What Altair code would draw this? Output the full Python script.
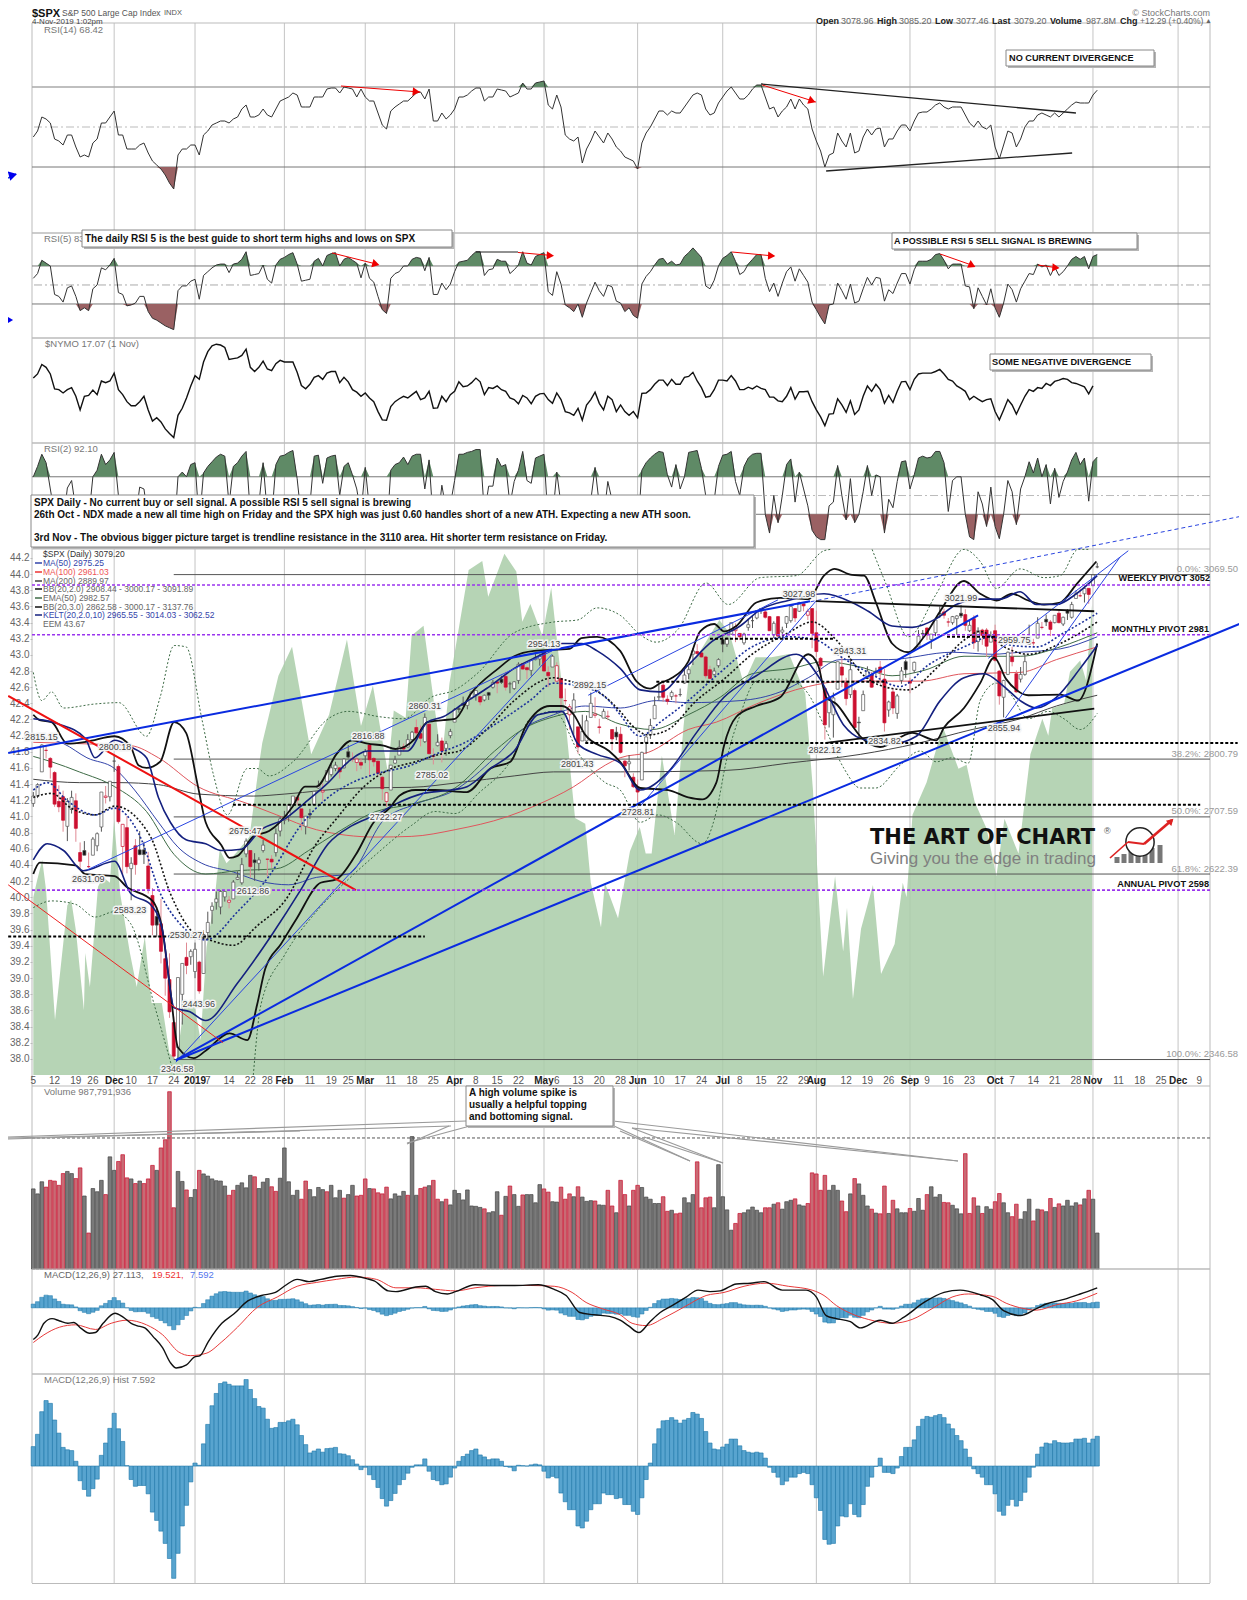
import altair as alt
import pandas as pd

# ---------- bar-by-bar readings ----------
opens = [2727,2738,2774,2806,2794,2773,2730,2737,2693,2718,2731,2654,2657,2633,2650,2664,2692,2736,2737,
 2790,2782,2663,2691,2630,2664,2658,2658,2634,2590,2559,2548,2496,2465,2401,2364,2443,2498,2499,
 2477,2491,2474,2535,2568,2580,2573,2588,2580,2585,2614,2609,2652,2657,2643,2638,2657,2644,2644,2654,2686,
 2702,2707,2725,2736,2719,2693,2712,2725,2750,2744,2760,2770,2779,2780,2780,2804,2793,2788,2788,
 2798,2814,2794,2790,2766,2730,2747,2787,2799,2811,2811,2822,2840,2831,2819,2845,2797,2813,2820,2809,2828,
 2848,2868,2876,2873,2884,2889,2886,2881,2892,2900,2908,2912,2916,2905,2898,2910,2935,2929,2925,2941,2942,
 2952,2922,2930,2909,2913,2880,2859,2863,2841,2820,2820,2855,2858,2841,2854,2856,2837,2833,2830,2790,2786,2766,
 2751,2762,2818,2829,2853,2885,2903,2882,2886,2887,2889,2906,2920,2949,2953,2951,2945,2926,2919,2932,
 2971,2964,2979,2984,2980,2966,2989,2999,3003,3017,3012,3005,2978,3005,2982,2995,2999,3017,3013,3024,3007,3017,
 2981,2943,2898,2862,2859,2897,2930,2907,2889,2895,2848,2865,2913,2919,2923,2930,2912,2866,2893,2861,2910,2938,
 2909,2925,2960,2980,2988,2971,2981,3010,3012,2997,2996,3002,3010,3008,2984,3002,2968,2985,2985,2967,
 2984,2924,2885,2919,2945,2920,2912,2919,2964,2966,2973,2989,3001,2997,2996,3010,2994,3014,3004,3032,3036,3039,3047,
 3051,3079]
highs = [2744,2757,2815,2814,2796,2775,2754,2746,2735,2746,2742,2669,2671,2654,2677,2684,2744,2753,2760,
 2800,2785,2696,2708,2647,2674,2686,2670,2655,2601,2573,2585,2510,2504,2410,2468,2489,2520,2510,
 2520,2493,2538,2566,2580,2596,2598,2596,2589,2613,2626,2646,2675,2657,2653,2647,2673,2645,2650,2690,2708,
 2716,2725,2738,2739,2719,2708,2719,2745,2761,2757,2776,2787,2789,2781,2794,2814,2803,2796,2794,
 2808,2816,2796,2790,2768,2744,2784,2798,2821,2816,2830,2835,2852,2843,2861,2846,2809,2830,2825,2820,2838,
 2869,2872,2886,2881,2893,2895,2886,2889,2893,2911,2909,2917,2923,2908,2909,2937,2936,2931,2940,2950,2949,
 2954,2931,2948,2937,2913,2898,2875,2891,2840,2859,2858,2892,2885,2853,2868,2865,2837,2841,2841,2792,2799,2772,
 2763,2804,2827,2853,2886,2904,2910,2888,2895,2890,2898,2930,2932,2958,2964,2955,2947,2932,2929,2943,
 2977,2974,2996,2995,2980,2981,3002,3006,3014,3017,3015,3006,2998,3006,2990,3006,3019,3017,3027,3025,3017,3017,
 3014,2945,2898,2884,2892,2938,2944,2914,2943,2898,2856,2895,2931,2923,2929,2939,2927,2880,2899,2890,2930,2941,
 2914,2938,2985,2985,2989,2979,3000,3020,3017,3003,3006,3007,3022,3016,2999,3007,2989,2987,2988,2983,
 2993,2925,2911,2953,2960,2925,2930,2949,2993,2972,3004,2997,3008,3000,3007,3015,3005,3016,3027,3044,3047,3050,3047,
 3067,3085]
lows = [2722,2735,2774,2794,2764,2722,2714,2685,2671,2712,2670,2631,2650,2631,2650,2656,2685,2727,2730,
 2774,2697,2621,2623,2583,2621,2650,2637,2593,2531,2528,2489,2441,2408,2347,2347,2398,2473,2487,
 2467,2444,2474,2525,2548,2569,2562,2581,2571,2585,2613,2606,2647,2617,2612,2627,2654,2618,2631,2648,2678,
 2696,2700,2724,2725,2687,2681,2704,2725,2749,2731,2760,2767,2775,2764,2779,2794,2789,2775,2778,
 2787,2767,2782,2768,2732,2722,2747,2786,2799,2804,2810,2821,2823,2812,2817,2800,2785,2812,2788,2798,2824,
 2848,2862,2873,2867,2882,2880,2873,2879,2881,2898,2891,2905,2895,2891,2896,2905,2926,2912,2917,2940,2932,
 2924,2900,2930,2908,2862,2874,2837,2826,2801,2820,2816,2855,2854,2831,2854,2851,2806,2821,2801,2766,2776,2750,
 2729,2762,2801,2823,2853,2880,2878,2874,2881,2876,2886,2905,2912,2933,2947,2944,2913,2912,2917,2929,
 2952,2960,2978,2967,2970,2963,2984,2988,3001,3009,3002,2984,2973,2975,2977,2988,2996,2997,3012,3013,3000,2958,
 2945,2914,2822,2840,2825,2897,2900,2873,2884,2839,2825,2865,2913,2899,2917,2905,2834,2856,2860,2853,2905,2914,
 2891,2921,2960,2972,2970,2957,2976,3003,3002,2990,2993,2978,3003,2984,2982,2957,2953,2963,2945,2967,
 2938,2874,2855,2918,2931,2892,2907,2917,2963,2962,2973,2986,2991,2976,2995,2995,2991,3000,3002,3032,3034,3026,3024,
 3051,3077]
closes = [2738,2755,2814,2806,2781,2726,2722,2702,2730,2736,2690,2641,2650,2633,2674,2682,2744,2738,2760,
 2790,2700,2696,2633,2638,2636,2651,2651,2600,2546,2546,2507,2467,2417,2351,2468,2489,2486,2507,
 2510,2448,2532,2550,2574,2585,2596,2596,2583,2610,2617,2636,2671,2633,2639,2643,2665,2644,2640,2682,2704,
 2707,2725,2738,2732,2706,2708,2710,2745,2754,2746,2776,2780,2784,2774,2793,2796,2794,2793,2784,
 2804,2792,2789,2772,2749,2743,2784,2792,2811,2808,2822,2833,2832,2824,2855,2801,2798,2818,2805,2816,2834,
 2867,2867,2873,2880,2893,2895,2878,2888,2888,2907,2906,2907,2900,2905,2908,2934,2927,2926,2940,2943,2946,
 2924,2917,2946,2932,2884,2880,2871,2881,2811,2834,2850,2876,2860,2840,2864,2857,2823,2826,2803,2783,2789,2752,
 2744,2803,2826,2843,2873,2886,2885,2879,2892,2887,2889,2918,2926,2954,2950,2945,2917,2913,2924,2941,
 2964,2973,2996,2990,2975,2979,2993,2999,3014,3014,3004,2984,2995,2976,2985,3005,3020,3003,3026,3021,3013,2980,
 2953,2932,2844,2881,2884,2938,2918,2883,2926,2840,2847,2889,2924,2900,2924,2922,2847,2878,2869,2887,2924,2926,
 2906,2937,2976,2979,2978,2979,3000,3009,3007,2997,3005,3006,3006,2992,2992,2966,2984,2977,2961,2976,
 2940,2887,2910,2952,2938,2893,2919,2938,2970,2966,2995,2989,2997,2986,3007,2996,3004,3010,3023,3039,3036,3047,3038,
 3067,3079]

volume = [2.25,2.11,2.45,2.30,2.49,2.47,2.35,2.68,2.74,2.68,2.54,2.84,2.05,1.01,2.26,2.17,2.49,2.09,3.15,2.77,
 3.02,3.21,2.56,2.53,2.40,2.47,2.40,2.53,2.91,2.77,3.40,3.63,4.98,1.72,2.74,2.46,2.22,2.01,2.23,2.77,
 2.67,2.61,2.53,2.48,2.47,2.33,2.07,2.21,2.35,2.42,2.28,2.63,2.59,2.26,2.44,2.54,2.31,2.18,2.55,3.40,
 2.45,2.07,2.21,1.96,2.47,2.23,2.03,2.29,2.23,2.17,2.35,2.00,2.21,1.99,2.09,2.35,2.05,2.07,2.53,2.26,
 2.25,2.14,2.11,2.30,1.97,2.11,2.05,2.18,2.07,3.72,2.07,2.26,2.30,2.34,2.49,1.96,1.89,1.96,1.80,2.21,
 2.12,1.94,2.22,1.77,1.76,1.73,1.69,1.58,1.61,2.17,1.51,2.04,2.33,2.09,1.76,2.08,2.09,2.09,1.86,2.37,
 2.25,2.16,1.89,1.88,2.30,1.96,2.11,2.03,2.31,2.02,1.90,1.92,1.91,1.80,1.79,2.21,1.77,1.58,2.49,2.09,
 1.77,2.21,2.35,2.29,2.02,1.96,1.84,1.84,2.03,1.62,1.65,1.55,1.57,2.00,1.86,2.09,3.01,1.72,2.00,2.02,
 1.72,2.93,2.03,1.66,1.09,1.28,1.56,1.58,1.66,1.74,1.65,1.58,1.72,1.72,1.82,1.86,1.68,1.89,1.93,1.97,
 1.80,1.77,1.84,2.70,2.67,2.21,2.63,2.21,2.35,2.21,1.91,1.61,2.11,2.54,2.39,2.07,1.77,1.68,1.57,1.55,
 2.33,1.56,1.93,1.69,1.58,1.58,1.70,1.62,1.98,1.65,2.09,2.31,2.02,2.09,1.87,1.86,1.79,1.69,1.55,3.24,
 1.56,2.00,1.77,1.56,1.75,1.68,1.89,2.12,1.86,1.58,1.47,1.82,1.40,1.61,1.96,1.35,1.68,1.66,1.61,1.98,
 1.73,1.83,1.77,1.93,1.77,1.86,1.80,1.97,2.21,1.96,1.01]
volume_side = ("gggrrrrrgg" "rrgrgggrgg" "rrrgrgrrrg" "rrrrggrggr" "ggggggrrgg" "ggrgggrrgg" "gggrrggggr"
 "gggrggrrrg" "rrrrggggrg" "grrgrrgrgg" "ggggggrggg" "rgrggrgggg" "rrggrrrgrg" "ggrggrrg" "rr" "grrgggggrr"
 "grrgggrrrr" "gggggrrggg" "ggrrgrgggr" "ggrrrrrggg" "rrgrgggrgr" "rgrgggrggg" "rgggrrgggr" "rrgrggrrgg"
 "rrgggrgrgr" "grggggrgrg" "g")

macd_hist = [4.9,8,13.7,16.5,15.8,11.6,8.3,4.7,4.1,3.9,1.2,-3.7,-5.9,-7.6,-5.7,-3.3,2.7,5.8,9.5,13.3,
 9.4,6.2,0.1,-3.4,-5.1,-4.9,-4.9,-7,-11.6,-13.7,-16.4,-19.5,-23.3,-28.3,-22,-15.1,-9.9,-4,.75,.2,
 5.6,10.5,15.2,18.3,20.8,21.2,20.6,20.2,20.2,20.2,21.8,19.3,17,15,14.6,11.8,9.5,9.7,11,11,
 11.4,11.8,10.4,7.7,5.4,3.3,3.8,4.3,3.5,4.4,4.5,4.7,3.1,3,2.6,1.6,.5,-.9,-.3,-2.2,
 -3.4,-5.4,-8.2,-10.1,-8.7,-6.9,-4.7,-3.4,-1.8,-.3,.3,.3,1.8,-1.3,-3.4,-3.7,-4.7,-4.5,-2.8,-.5,
 1.2,2.4,3,3.9,4.3,2.8,2.3,1.6,1.8,1.8,1.2,-.1,-.3,-1.2,.2,.1,0,.3,.5,.3,
 -1.3,-3,-2.6,-3,-6.8,-9,-11,-11,-15.1,-15.6,-13.9,-11,-9.5,-9.5,-6.8,-7.2,-7.2,-8.2,-8,-9.7,
 -9.7,-11.4,-12.2,-8,-3.4,.75,5.6,9.4,11.4,11.5,12.2,11.6,10.8,11.6,12,13.5,13.1,12,8.7,5.8,
 4.3,4.1,4.8,5.5,6.8,6.8,5.1,3.9,3.5,3.3,3.5,3.3,2,-.3,-1.6,-2.8,-4.7,-3.8,-2.8,-2.8,
 -1.9,-1.6,-1.9,-4.7,-8,-11.2,-18.5,-19.7,-19.5,-15.1,-12.6,-12.8,-9.5,-12.2,-12.8,-9.7,-5.1,-2.8,-.1,2,
 -1.6,-1.6,-1.9,-.5,2.4,4.7,4.7,6.6,10,11.8,12.5,12.3,12.7,13,12.2,10.6,9.4,7.7,6.4,4.3,
 2.2,-.7,-1.9,-2.8,-4.7,-4.7,-7,-11.4,-12.4,-9.9,-8.4,-10.1,-8.7,-6.6,-2.8,-.3,3,4.8,5.8,5.6,
 6.4,5.9,5.8,5.8,5.9,6.8,6.8,7,5.8,6.8,7.5]

rsi14 = [45,48,55,54,52,44,43,41,46,46,40,35,36,35,42,44,52,52,55,58,46,46,39,39,39,41,42,37,33,31,29,26,22,19,36,39,39,41,41,36,
 46,48,51,52,53,53,52,54,55,59,61,55,55,56,59,56,55,59,63,64,65,67,66,60,60,60,65,65,65,69,69.5,69.5,67,70,69.5,69,65,69,65,63,
 63,57,51,49,58,60,61.5,63,63,65,67,67.5,64,69,53,53,57,54,56,59,65,65,66,68,69.5,69.5,63,65,65,69,68.5,68,65,66,67,72,69,69,72,72.5,
 73,61,59,66,60,46,44,43,45,32,39,43,48,45,42,47,44,40,38,35,34,33,29,42,47,50,54,58,58,56,58,57,57,60,63,66,67,66,59,56,
 57,62,65,68,70,67,64,64,66,69,71,71,65,59,60,55,58,60,64,59,64,61,59,49,43,38,30,36,37,47,43,40,47,37,38,45,49,46,49,49.5,
 40,44,44,48,51,51,48,53,57,57.5,57.5,59,61,62,60,59,60,60,60,56,52,50,53,50,49,51,40,34,41,48,47,40,44,50,53,53,56,57,56,55,
 57,55,57,59,61,62.5,62,62,62,66,68.4]
rsi5 = [57,62,76,73,70,40,38,32,47,49,38,23,26,23,46,50,68,66,71,78,42,40,28,29,31,38,38,22,15,13,10,7,5,3,44,49,49,54,56,35,
 60,64,68,71,72,72,63,72,73,77,85,60,61,62,71,56,52,71,77,79,82,84,72,54,55,56,75,78,70,81,83,84,70,77,79,76,73,57.5,73,57,
 53,38,24,20,57,62,64,70,70,77,79,78,65,79,40,40,52,45,51,64,74,75,76,81,85,85,60,66,67,77,75,75,62,66,71,85,73,71,80,82,
 84,43,39,64,51,29,26,22,30,16,31,42,53,44,38,50,48,33,31,22,26,18,15,51,59,64,71,77,78,72,75,71,72,80,84,89,84,79,49,46,
 55,70,78,81,85,75,61,64,72,77,82,82,57,43,52,38,52,64,69,54,67,60,53,32,24,16,9,29,30,52,44,35,51,31,33,46,58,50,58,57,
 33,45,41,52,62,62,51,66,75,75,75,77,82,83,76,67,72,72,72,49,48,25,47,38,29,46,26,16,31,51,45,32,46,54,62,61,72,69,71,60,
 69,60,64,70,77,80,77,80,67,80,82]
nymo = [35,45,68,61,45,9,7,-1,7,12,-9,-42,-9,-7,6,-5,28,24,28,47,7,-5,-22,-32,-32,-22,-9,-42,-69,-61,-71,-88,-99,-109,-55,-38,-13,16,41,32,
 74,99,113,117,115,109,80,82,84,90,105,61,51,61,76,57,53,70,78,74,74,74,49,17,9,20,37,41,32,47,51,51,24,37,26,7,1,-9,-1,-13,
 -22,-46,-66,-67,-34,-22,-15,-9,-13,-5,3,-17,-13,3,-38,-37,-9,-22,-5,3,26,14,16,24,35,26,-5,12,10,16,7,3,-13,-17,-27,-7,-13,-27,-9,-3,
 -2,-17,-26,-1,-17,-46,-49,-55,-38,-67,-30,-17,1,-26,-42,-9,-17,-46,-30,-46,-55,-46,-61,-2,-1,7,20,30,30,17,32,20,20,37,39,49,28,12,-11,-9,
 7,30,30,28,41,28,7,7,13,9,16,10,7,-11,-11,-20,-22,-9,12,-16,2,2,3,-22,-42,-59,-80,-52,-51,-15,-30,-48,-20,-53,-42,-9,16,3,20,7,
 -26,-7,-24,3,26,27,7,32,45,47,47,47,51,56,45,32,28,16,10,3,-17,-9,-16,-22,-17,-15,-46,-66,-42,-17,-30,-52,-30,-9,7,3,12,10,22,17,
 27,30,34,32,24,22,18,14,-3,16]
rsi2 = [70,81,94,85,57,30,30,20,58,66,35,20,30,25,70,77,94,83,88,96,50,30,15,15,25,59,57,25,15,10,7,5,4,3,70,75,70,83,85,20,
 74,81,86,91,94,92,40,81,85,92,97,30,35,40,85,30,25,83,92,93,96,98,68,25,35,40,92,93,63,90,92,93,50,81,85,72,57,30,80,35,
 25,15,8,5,77,83,85,91,83,92,94,94,57,88,20,20,61,35,40,66,94,94,96,97,99,99,30,60,60,90,81,83,40,65,77,97,66,63,90,92,
 94,20,25,75,40,15,12,10,25,8,30,45,80,40,25,65,45,15,20,10,20,12,8,77,85,90,94,97,96,72,59,83,57,70,96,97,98,79,50,20,
 45,81,93,94,97,65,50,81,90,94,95,95,30,10,50,21,50,83,89,43,75,57,39,13,6,3,3,39,43,82,50,24,68,21,30,54,82,50,72,70,
 10,46,37,65,86,87,57,72,90,92,90,91,97,97,85,33,66,70,70,30,6,3,54,41,17,59,17,4,30,66,54,19,57,70,86,74,90,70,83,41,
 79,48,65,75,88,96,83,90,44,86,91]

eem_i = [0,.9,2.1,3,5.1,8,8.9,10,11.9,12.2,13.3,15.2,16.4,18,19,20.4,22.7,24.3,26.2,27.8,30.2,32,33.7,35.6,37.9,39.3,40.7,42.6,43.8,45.4,47.7,50.8,53.1,53.8,57.6,60.8,65.3,69.5,73.7,77,79.8,83.3,84.7,87.5,88.9,91.7,96,97.8,102.3,105.5,106.9,110.7,113.5,114.9,116.8,119.6,121.7,124.5,127.3,129.7,131,133.4,134.3,137.4,140.2,142.5,143.9,145.3,147.7,150.7,152.8,154.2,161.2,163.6,166.9,169.7,173.4,177.6,181.4,183.2,185.6,188.4,190.3,191.2,192.6,194.5,197.3,199.2,202.4,204.3,205.2,206.6,209.9,213.7,217.4,219.3,221.2,224,226.3,228.2,231.5,234.3,237.1,238.5,239.4,242.2,243.6,246,247.4,248.8]
eem_v = [40.0,40.21,40.46,40.09,38.48,39.9,39.97,39.59,38.6,39.31,38.89,40.13,40.25,40.18,40.96,40.05,39.31,38.89,39.51,38.69,38.69,38.07,37.98,38.73,38.66,38.23,39.38,39.97,40.59,40.42,40.55,40.75,41.66,41.91,42.74,43.1,41.77,42.26,43.19,42.12,42.62,41.55,42.31,42.22,43.24,43.36,41.69,42.65,44.05,44.16,43.72,44.25,44.03,43.41,43.63,43.24,43.83,42.48,40.98,40.91,40.18,39.63,40.18,39.74,40.57,40.87,40.54,40.54,41.75,40.77,42.12,42.83,43.43,43.27,42.65,42.97,42.97,43.01,42.52,41.33,39.02,40.26,39.33,39.87,38.74,39.61,40.15,39.05,39.42,40.18,40.0,41.02,41.42,42.11,41.59,41.64,41.18,40.85,40.26,40.97,40.54,41.77,42.21,42.0,42.34,42.39,42.79,42.93,42.68,43.63]

macd_i = [0,1.1,2.5,4.4,6.2,8.1,9.5,11.3,13.2,14.6,16.4,19.2,21.1,23,24.3,26.2,28.1,30.4,32.2,33.6,36,37.8,39.2,41.1,44.3,47.1,50.4,53.6,56.9,59.2,62,64.8,67.6,71.3,74.5,78.3,80.1,83.4,85.2,89.9,92.2,94.5,97.3,99.2,103.8,108.5,113.1,118.7,122.4,125.2,128.4,131.7,135.4,137.9,139.8,142.3,144.9,147.3,150.1,153.4,156.2,159,161.4,165.2,168.5,171.7,176,181.6,184,186.3,188.7,192,194.3,199,201.8,204.6,209.3,214,217.8,222.5,225.3,228.1,231.9,235.7,238,242.2,246,250]
macd_v = [-41,-35,-20,-14,-17,-20,-19,-27,-33,-32,-20,-7,-12,-20,-23,-26,-37,-52,-71,-78,-74,-64,-62,-44,-20,-8,9,16,20,29,37,34,37,41,42,38,35,22,21,27,28,21,18,21,30,29,29,30,24,16,-6,-9,-11,-16,-23,-32,-18,-6,3,14,23,21,22,31,32,34,23,23,14,-10,-14,-18,-26,-16,-20,-12,7,20,23,17,11,-4,-10,-1,5,11,18,26]
signal_i = [0,2.5,6.2,9.9,14.6,18.3,22,26.6,30.4,34.1,36.9,40.6,44.3,48,52.7,57.3,62,66.6,71.3,75.9,80.6,85.2,89.9,94.5,99.2,103.8,110.3,116.8,122.4,126.6,129.9,133.6,137.9,140.7,144,148.2,152.9,158.1,162.3,167,172.2,177.4,183,185.8,188.7,192.4,196.2,201.8,206.5,211.2,215.9,219.7,225.3,228.6,232.8,235.7,240.4,245.1,250]
signal_v = [-45,-35,-25,-22,-28,-20,-16,-22,-35,-57,-62,-59,-44,-25,1,14,28,33,37,40,37,26,26,24,22,26,29,29,28,20,7,-1,-9,-20,-23,-13,1,16,20,28,32,28,23,16,3,-8,-15,-20,-15,-1,14,18,15,6,-1,-3,4,9,19]

# ---------- price overlays ----------
bb_up_i = [0,1.5,4.3,8,12.6,19.1,22.9,24.7,26.6,29.8,33.1,35.9,38.7,40.5,44.2,46.1,48,51.7,55.4,61,63.8,66.5,71.2,74.9,78.6,82.3,85.1,89.8,92.6,96.3,99.1,102.8,109.3,113,117.7,126,128.8,132.5,137.9,141.7,144.95,147.3,150.1,153.9,156.7,160,162.3,165.2,169.9,175.5,182.1,185.8,188.2,192.4,195.2,198,201.8,205.6,209.3,213.1,218.7,222.5,226.3,230,233.8,237.5,241.3,245.1,249.8]
bb_up_v = [2859,2851,2848,2816,2819,2827,2811,2784,2780,2789,2848,2832,2752,2699,2665,2646,2649,2678,2686,2723,2752,2752,2800,2821,2816,2813,2808,2824,2848,2851,2853,2890,2928,2946,2954,2957,2973,2975,2954,2909,2898,2906,2914,2938,2983,2994,2983,2991,3026,3033,3031,3066,3076,3067,3066,3026,2965,2952,2975,3013,3058,3039,3029,3039,3029,3023,3026,3053,3087]
bb_lo_i = [0,1.5,9.9,12.2,19.1,21.9,28,30.3,32.2,34,37.7,40.5,46.1,50.3,52.6,54.5,58.2,61.9,67.5,71.2,75.8,80,83.7,86.1,89.8,94.4,101.9,107.4,112.1,115.8,121.4,124.2,127,129.7,135.3,137.9,142.6,149.2,153.9,157.2,160.5,162.3,165.2,169.9,175.5,182.1,184.4,186.3,188.7,192.4,194.3,199,206.5,212.2,214,218.7,222.5,225.8,228.6,231,233.8,241.3,245.5,250]
bb_lo_v = [2622,2639,2635,2622,2619,2603,2582,2540,2449,2364,2348,2359,2385,2375,2428,2481,2518,2556,2609,2614,2651,2699,2720,2739,2747,2747,2744,2779,2789,2843,2872,2872,2859,2829,2805,2789,2750,2747,2736,2733,2758,2813,2856,2872,2885,2949,2933,2885,2875,2843,2827,2811,2832,2821,2840,2869,2906,2944,2912,2896,2888,2889,2880,2965]
kelt_up_i = [0,2.4,6.1,12.2,14.5,19.1,22.9,26.6,29.4,32.2,35.9,40.5,44.2,48.9,53.5,59.1,63.8,69.3,74,78.6,83.7,87.9,92.6,96.3,100.9,106.5,113,119.5,124.2,128.8,132.5,137.9,142.6,147.3,153.9,159.5,166.1,170.8,177.4,185.8,192.4,196.2,201.8,206.5,212.2,216.9,222.5,227.2,231.9,235.7,240.4,245.1,250]
kelt_up_v = [2853,2851,2845,2824,2795,2821,2811,2795,2736,2699,2673,2667,2657,2659,2688,2704,2728,2758,2789,2805,2805,2805,2848,2856,2875,2898,2928,2949,2965,2965,2954,2928,2896,2893,2933,2968,2991,3015,3029,3039,3026,3013,2991,2989,3002,3023,3031,3031,3042,3023,3023,3039,3066]
kelt_lo_i = [0,3.3,7.1,11.7,19.1,22.9,27.5,30.3,33.1,36.8,40.5,48,56.3,62.8,69.3,74.9,80.5,85.1,91.6,98.1,101.9,107.4,113,118.6,124.2,127.9,132.5,137.9,142.6,149.2,155.8,162.3,169.9,179.3,184.9,190.5,194.3,201.8,207.5,213.1,218.7,223.4,228.1,231.9,235.7,240.4,246,250]
kelt_lo_v = [2643,2667,2657,2627,2641,2593,2577,2540,2423,2417,2404,2460,2534,2598,2667,2694,2710,2726,2742,2747,2752,2779,2805,2859,2864,2816,2800,2787,2747,2774,2832,2885,2917,2949,2912,2843,2824,2816,2827,2880,2914,2920,2901,2880,2869,2885,2928,2962]
kelt_mid_i = [0,3.3,8,14.5,19.1,24.7,30.3,34.9,40.5,48,55.4,62.8,69.3,74.9,80.5,88.8,94.4,100.9,109.3,116.7,122.3,128.8,135.3,137.9,142.6,147.3,153.9,161.4,168.9,177.4,184,189.6,196.2,203.7,210.3,218.7,225.3,230,235.7,242.2,250]
kelt_mid_v = [2747,2758,2731,2710,2720,2683,2587,2545,2524,2566,2619,2694,2736,2758,2771,2784,2800,2816,2848,2880,2906,2901,2880,2859,2827,2848,2880,2922,2960,2975,2970,2946,2922,2901,2933,2960,2975,2962,2960,2981,3010]
bb_mid_i = [0,4.3,8.9,14.5,19.1,27.5,32.2,37.7,41.4,47,52.6,59.1,66.5,71.2,77.7,84.2,89.8,95.4,100,106.5,113,122.3,126,133.5,137.9,140.7,144.5,149.2,155.8,162.3,168.9,177.4,183,188.7,195.2,201.8,205.6,212.2,218.7,222.5,228.1,233.8,241.3,250]
bb_mid_v = [2736,2742,2720,2710,2723,2678,2593,2534,2524,2516,2545,2582,2667,2704,2752,2779,2789,2800,2805,2837,2880,2914,2909,2890,2864,2843,2829,2837,2880,2912,2949,2981,2997,2970,2917,2898,2896,2928,2970,2983,2960,2949,2965,2997]
bb3_up_i = [0,2,4.3,7.1,14.5,20.1,26.6,29.8,33.1,35.9,39.6,42.4,45.6,50.3,52.6,55.4,61,69.3,74,81.4,87,93.5,99.1,104.6,113,122.3,127.9,132.5,137.9,142.6,146.4,151.5,158.1,163.3,170.8,179.3,185.8,187.3,190,195,197.1,200.4,205.6,212.2,218.7,222.5,226.3,231.9,237.5,241.3,245.5,247.9]
bb3_up_v = [2922,2880,2893,2869,2875,2877,2827,2885,2962,2960,2853,2768,2710,2779,2779,2768,2789,2853,2864,2856,2853,2885,2896,2922,2981,2997,3000,3018,3007,2978,2967,2986,3055,3023,3063,3066,3103,3105,None,None,3105,3053,2975,3039,3105,3087,3047,3076,3063,3066,3105,3105]
bb3_lo_i = [0,4.3,9.9,14.5,19.1,22.9,28.4,30.8,33.1,40,51.7,53.5,59.1,66.5,74,80.5,88.8,94.4,99.1,104.6,113,116.7,122.3,128.8,134.4,137.9,142.6,146.8,151,157.2,160.5,162.8,166.1,169.9,174.6,178.3,182.1,185.8,190.5,194.3,198,203.7,208.4,212.2,215.9,219.7,222.5,226.3,229.6,233.8,238.5,242.2,246,250]
bb3_lo_v = [2572,2582,2577,2558,2566,2548,2428,2375,2323,None,2323,2428,2502,2566,2614,2651,2694,2715,2712,2742,2800,2853,2864,2795,2758,2747,2699,2710,2699,2667,2715,2789,2859,2909,2912,2909,2890,2843,2779,2750,2750,2784,2805,2789,2795,2787,2880,2906,2890,2853,2864,2853,2837,2861]
ma200_i = [0,10.8,20.1,29.4,38.7,51.7,59.1,75.8,88.8,100,113,122.3,137.9,162.3,177.4,194.3,207.5,220.6,231.9,240.4,250]
ma200_v = [2763,2758,2758,2755,2741,2738,2741,2750,2751,2758,2768,2774,2774,2776,2787,2800,2816,2837,2853,2872,2888]
ma100_i = [0,10.8,22.9,29.4,38.7,49.8,57.2,66.5,80.5,88.8,99.1,111.2,117.7,127,134.4,137.9,144.5,153.9,160.5,169.9,182.1,190.5,199,208.4,218.7,231.9,240.4,250]
ma100_v = [2818,2816,2813,2795,2752,2728,2710,2688,2677,2678,2688,2707,2723,2752,2784,2795,2803,2837,2848,2875,2901,2909,2909,2909,2920,2922,2941,2960]
ma50_i = [0,7.1,12.6,19.1,23.8,29.4,34,39.6,47,53.5,60,66.5,74,82.3,89.8,99.1,108.4,114.9,122.3,129.7,137.9,146.4,153.9,166.1,175.5,182.1,189.6,200.9,215.9,225.3,231.9,241.3,250]
ma50_v = [2827,2816,2795,2779,2747,2699,2662,2638,2625,2611,2606,2617,2622,2702,2726,2747,2795,2837,2859,2872,2869,2880,2877,2880,2893,2914,2941,2941,2952,2949,2952,2957,2975]
ema50_i = [0,4.3,10.8,19.1,26.6,33.1,40.5,48,57.2,64.7,71.2,80.5,88.8,99.1,108.4,114.9,122.3,129.7,137.9,145.4,153.9,161.4,168.9,178.3,185.8,194.3,201.8,209.3,218.7,225.3,231.9,241.3,250]
ema50_v = [2797,2789,2774,2752,2715,2651,2622,2627,2630,2657,2683,2715,2726,2750,2805,2837,2856,2864,2845,2837,2859,2885,2920,2928,2938,2930,2917,2925,2946,2946,2946,2960,2981]

# trendlines: start index, start price, end index, end price
blue_thick = [(-5.9,2802,182.5,3028),(33.5,2345,284.5,2997),(33.5,2345,222,3007)]
blue_thin = [(33.5,2342,121.9,2949),(12.6,2628,121.9,2954),(130.4,2888,175,3030),(142.6,2723,183.9,3028),(228.4,2854,255.4,3094),(224.4,2943,257.3,3103)]
blue_dash = [(177.8,3021,285.2,3156)]
red_thick = [(-5.9,2887,75.8,2598)]
red_thin = [(-5.9,2606,44.6,2371)]
black_thick = [(183.9,3028,249.3,3013),(186.3,2817,249.3,2868)]
black_dash = [(-5.9,2529,92,2529),(46.9,2725,274.2,2725),(129.7,2817,283,2817),(146.4,2908,200.6,2908),(159,2972,188,2972),(214.7,2975,226.5,2975)]
fib_levels = [3067.5,2793,2707,2622,2346]
pivots = [3052,2978,2598]
peak_i = [1.9,19.2,12.9,22.7,35.9,38.9,33.8,49.8,51.6,82.9,78.7,92,93.7,120,127.8,130.8,142.1,179.9,191.9,186,200,218,228.1,230.5]
peak_p = [2826,2811,2615,2568,2531,2429,2332,2686,2597,2707,2827,2872,2769,2964,2786,2903,2714,3039,2954,2807,2820,3033,2840,2970]
peak_t = ["2815.15","2800.18","2631.09","2583.23","2530.27","2443.96","2346.58","2675.47","2612.86","2722.27","2816.88","2860.31","2785.02","2954.13","2801.43","2892.15","2728.81","3027.98","2943.31","2822.12","2834.82","3021.99","2855.94","2959.75"]

# x ticks: bar index and label
tick_i = [0,5,10,14,19,23,28,33,38,41,46,51,55,59,65,70,74,78,84,89,94,99,104,109,114,120,123,128,133,138,142,147,152,157,162,166,171,176,181,184,191,196,201,206,210,215,220,226,230,235,240,245,249,255,260,265,269,274]
tick_l = ["5","12","19","26","Dec","10","17","24","2019","7","14","22","28","Feb","11","19","25","Mar","11","18","25","Apr","8","15","22","May","6","13","20","28","Jun","10","17","24","Jul","8","15","22","29","Aug","12","19","26","Sep","9","16","23","Oct","7","14","21","28","Nov","11","18","25","Dec","9"]
bold_l = {"Dec","2019","Feb","Mar","Apr","May","Jun","Jul","Aug","Sep","Oct","Nov"}
month_i = [i for i, l in zip(tick_i, tick_l) if l in bold_l]

# ---------- helpers ----------
SANS = "Liberation Sans"
OX, OY = 32, 23
W, H = 1178, 1560
xs = alt.Scale(domain=[-0.306, 276.5], nice=False, zero=False, padding=0)
X = alt.X("i:Q", scale=xs, axis=None)
one = alt.InlineData(values=[{"a": 1}])


def yscale(top, bottom, dmax, dmin):
    return alt.Scale(domain=[dmin, dmax], range=[bottom - OY, top - OY], nice=False, zero=False, padding=0)


def s(vals, idx=None):
    return pd.DataFrame({"i": list(range(len(vals))) if idx is None else idx, "v": vals})


def segs(rows):
    out = []
    for n, (a, b, c, d) in enumerate(rows):
        out += [{"i": a, "v": b, "k": n}, {"i": c, "v": d, "k": n}]
    return pd.DataFrame(out)


def line(df, sc, color, width=1, dash=None, axis=None, detail=False, smooth=False):
    kw = {"strokeDash": dash} if dash else {}
    if smooth:
        kw["interpolate"] = "monotone"
    enc = dict(x=X, y=alt.Y("v:Q", scale=sc, axis=axis))
    if detail:
        enc["detail"] = "k:N"
    return alt.Chart(df).mark_line(color=color, strokeWidth=width, clip=False, **kw).encode(**enc)


def levels(vals, sc, color, width=1, dash=None, axis=None):
    kw = {"strokeDash": dash} if dash else {}
    return alt.Chart(pd.DataFrame({"v": vals})).mark_rule(color=color, strokeWidth=width, **kw).encode(
        y=alt.Y("v:Q", scale=sc, axis=axis))


def yaxis(values, shown=None, expr=None, orient="right"):
    if expr is None and shown is not None:
        expr = "indexof(%s, datum.value) >= 0 ? datum.label : ''" % str(shown)
    kw = {"labelExpr": expr} if expr else {}
    return alt.Axis(orient=orient, values=values, title=None, grid=True, gridColor="#e9e9e9", gridWidth=1,
                    domainColor="#bbbbbb", tickColor="#bbbbbb", tickSize=3, labelColor="#666666",
                    labelFont=SANS, labelFontSize=10, labelPadding=2, labelOverlap=False, labelFlush=False, **kw)


def fills(vals, sc, hi=70, lo=30):
    d = s(vals)
    d["up"] = [max(v, hi) for v in vals]
    d["dn"] = [min(v, lo) for v in vals]
    d["hi"] = hi
    d["lo"] = lo
    a = alt.Chart(d).mark_area(color="#5f8a66").encode(x=X, y=alt.Y("up:Q", scale=sc, axis=None), y2="hi:Q")
    b = alt.Chart(d).mark_area(color="#9a6163").encode(x=X, y=alt.Y("dn:Q", scale=sc, axis=None), y2="lo:Q")
    return [a, b]


def txt(t, px, py, size=10, color="#444444", weight="normal", align="left", font=SANS, **kw):
    return alt.Chart(one).mark_text(fontSize=size, color=color, fontWeight=weight, align=align, baseline="middle",
                                    font=font, **kw).encode(x=alt.value(px - OX), y=alt.value(py - OY), text=alt.value(t))


def note(t, px, py, size):
    return txt(t, px, py, size, "#111111", "bold")


def box(x0, y0, x1, y1):
    sh = alt.Chart(one).mark_rect(fill="#b5b5b5").encode(x=alt.value(x0 - OX + 2), x2=alt.value(x1 - OX + 2),
                                                       y=alt.value(y0 - OY + 2), y2=alt.value(y1 - OY + 2))
    r = alt.Chart(one).mark_rect(fill="white", stroke="#888888", strokeWidth=1).encode(
        x=alt.value(x0 - OX), x2=alt.value(x1 - OX), y=alt.value(y0 - OY), y2=alt.value(y1 - OY))
    return [sh, r]


def seg_px(x0, y0, x1, y1, color="#999999", width=1.0):
    return alt.Chart(one).mark_rule(color=color, strokeWidth=width).encode(
        x=alt.value(x0 - OX), x2=alt.value(x1 - OX), y=alt.value(y0 - OY), y2=alt.value(y1 - OY))


def head(x, v, sc, angle, color="#ee0000", size=70):
    d = pd.DataFrame({"i": [x], "v": [v]})
    return alt.Chart(d).mark_point(shape="triangle-right", filled=True, color=color, size=size, angle=angle, opacity=1).encode(
        x=X, y=alt.Y("v:Q", scale=sc, axis=None))


# ---------- scales ----------
sc_r14 = yscale(23, 233, 102, -3)
sc_r5 = yscale(233, 338, 104.7, -5.8)
sc_ny = yscale(338, 443, 132, -122)
sc_r2 = yscale(443, 549, 106, -7)
sc_eem = yscale(549, 1075, 44.31, 37.80)
sc_px = yscale(549, 1075, 3105.6, 2323)
sc_vol = yscale(1086, 1269, 5.14, 0)
sc_macd = yscale(1269, 1374, 50.4, -85.8)
sc_hist = yscale(1374, 1583.5, 23.2, -29.6)
sc_strip = yscale(1075, 1086, 1, 0)

# ---------- vertical grid and bottom axis ----------
label_map = "{" + ",".join("'%d':'%s'" % (i, l) for i, l in zip(tick_i, tick_l)) + "}"
x_axis = alt.Axis(values=tick_i, title=None, grid=True, gridColor="#e4e4e4", domainColor="#bbbbbb", ticks=False,
                  labelExpr=label_map + "[''+datum.value]", labelFont=SANS, labelFontSize=10, labelColor="#555555",
                  labelPadding=2, labelOverlap=False, labelFlush=False,
                  labelFontWeight={"condition": {"test": "indexof(%s, datum.value) >= 0" % str(month_i), "value": "bold"}, "value": "normal"})
grid_x = alt.Chart(pd.DataFrame({"i": month_i})).mark_rule(color="#c4c4c4", strokeWidth=1).encode(
    x=alt.X("i:Q", scale=xs, axis=x_axis))
edges = alt.Chart(pd.DataFrame({"i": [-0.306, 276.5]})).mark_rule(color="#bbbbbb").encode(x=X)

# ---------- RSI 14 ----------
rsi14_panel = alt.layer(
    levels([102, -3], sc_r14, "#bbbbbb", axis=yaxis(list(range(100, -1, -10)), [90, 70, 50, 30, 10])),
    levels([70], sc_r14, "#aaaaaa", 1.5), levels([30], sc_r14, "#777777", 1),
    levels([50], sc_r14, "#bbbbbb", 1, [8, 3, 2, 3]),
    *fills(rsi14, sc_r14),
    line(s(rsi14), sc_r14, "#333333", 1),
    line(segs([(171, 71.5, 245, 57), (186.3, 28, 244.1, 37)]), sc_r14, "#222222", 1.3, detail=True),
    line(segs([(72.3, 70.5, 90.9, 67.5), (171.3, 71, 183.9, 62.5)]), sc_r14, "#ee0000", 1, detail=True),
    head(90, 67.6, sc_r14, 5), head(183, 63, sc_r14, 20),
)
# ---------- RSI 5 ----------
rsi5_panel = alt.layer(
    levels([104.7, -5.8], sc_r5, "#bbbbbb", axis=yaxis(list(range(100, -1, -10)), [90, 70, 50, 30, 10])),
    levels([70], sc_r5, "#777777", 1), levels([30], sc_r5, "#777777", 1),
    levels([50], sc_r5, "#aaaaaa", 1, [8, 3, 2, 3]),
    *fills(rsi5, sc_r5),
    line(s(rsi5), sc_r5, "#333333", 1),
    line(segs([(104, 84.7, 113.9, 84.7)]), sc_r5, "#222222", 1, detail=True),
    line(segs([(70.2, 83.7, 81, 71.6), (113.9, 84.2, 121.9, 81), (164.2, 84.7, 174, 80.5), (213.1, 82.6, 221.1, 70), (236.1, 71, 240.8, 67.9)]), sc_r5, "#ee0000", 1, detail=True),
    head(80.5, 72, sc_r5, 15), head(121.5, 81, sc_r5, 3), head(173.5, 80.7, sc_r5, 3),
    head(220.6, 70.6, sc_r5, 25), head(240.3, 68.2, sc_r5, 5),
)
# ---------- NYMO ----------
nymo_panel = alt.layer(
    levels([132, -122], sc_ny, "#bbbbbb", axis=yaxis(list(range(-100, 125, 25)), [100, 50, 0, -50, -100])),
    line(s(nymo), sc_ny, "#111111", 1.4),
)
# ---------- RSI 2 ----------
rsi2_panel = alt.layer(
    levels([106], sc_r2, "#bbbbbb", axis=yaxis(list(range(100, -1, -10)), [90, 70, 50, 30, 10])),
    levels([70], sc_r2, "#777777", 1), levels([30], sc_r2, "#777777", 1),
    levels([50], sc_r2, "#bbbbbb", 1, [8, 3, 2, 3]),
    *fills(rsi2, sc_r2),
    line(s(rsi2), sc_r2, "#333333", 1),
)

# ---------- EEM ----------
eem_df = s(eem_v, eem_i)
eem_df["b"] = 37.80
eem_panel = alt.Chart(eem_df).mark_area(color="#a9cca8", opacity=0.85).encode(
    x=X,
    y=alt.Y("v:Q", scale=sc_eem, axis=alt.Axis(orient="left", values=[round(38 + .2 * k, 1) for k in range(32)], title=None,
            grid=False, domain=False, tickSize=2, tickColor="#bbbbbb", labelColor="#666666", labelFont=SANS, labelFontSize=10,
            labelPadding=1, labelOverlap=False, format=".1f")),
    y2="b:Q")

# ---------- candles ----------
prev = [closes[0]] + closes[:-1]
cdf = pd.DataFrame({"i": range(len(closes)), "o": opens, "h": highs, "l": lows, "c": closes})
cdf["wick"] = ["#e08a94" if c < p else "#555555" for c, p in zip(closes, prev)]
cdf["fill"] = [("#cc1030" if c < p else "#111111") if c < o else "#ffffff" for o, c, p in zip(opens, closes, prev)]
cdf["edge"] = ["#cc1030" if c < p else "#555555" for c, p in zip(closes, prev)]
wick = alt.Chart(cdf).mark_rule(strokeWidth=1).encode(
    x=X, y=alt.Y("h:Q", scale=sc_px, axis=None), y2="l:Q", color=alt.Color("wick:N", scale=None))
body = alt.Chart(cdf).mark_bar(size=3, strokeWidth=0.7, orient="vertical").encode(
    x=X, y=alt.Y("o:Q", scale=sc_px, axis=None), y2="c:Q",
    color=alt.Color("fill:N", scale=None), stroke=alt.Stroke("edge:N", scale=None))

pk = pd.DataFrame({"i": peak_i, "v": peak_p, "t": peak_t})
peak_bg = alt.Chart(pk).mark_text(font=SANS, fontSize=9, color="#f0f0f0", stroke="#f4f4f4", strokeWidth=3, clip=False).encode(
    x=X, y=alt.Y("v:Q", scale=sc_px, axis=None), text="t:N")
peak_fg = alt.Chart(pk).mark_text(font=SANS, fontSize=9, color="#444444").encode(
    x=X, y=alt.Y("v:Q", scale=sc_px, axis=None), text="t:N")

price_panel = alt.layer(
    levels([3105.6], sc_px, "#bbbbbb", axis=yaxis(list(range(2350, 3125, 25)))),
    # fib lines only span from the 2346 low onward
    line(segs([(33, v, 276.5, v) for v in fib_levels]), sc_px, "#555555", 1, detail=True),
    line(s(ma200_v, ma200_i), sc_px, "#444444", 1, smooth=True),
    line(s(ma100_v, ma100_i), sc_px, "#e0555c", 1, smooth=True),
    line(s(ma50_v, ma50_i), sc_px, "#3344aa", 1, smooth=True),
    line(s(ema50_v, ema50_i), sc_px, "#3e6b46", 1, smooth=True),
    line(s(bb3_up_v, bb3_up_i), sc_px, "#3e6b46", 1, [2, 2], smooth=True),
    line(s(bb3_lo_v, bb3_lo_i), sc_px, "#3e6b46", 1, [2, 2], smooth=True),
    wick, body,
    line(s(bb_mid_v, bb_mid_i), sc_px, "#111111", 1.6, [2, 2], smooth=True),
    line(s(kelt_mid_v, kelt_mid_i), sc_px, "#1a2f9a", 1.6, [2, 2], smooth=True),
    line(s(bb_up_v, bb_up_i), sc_px, "#111111", 1.8, smooth=True),
    line(s(bb_lo_v, bb_lo_i), sc_px, "#111111", 1.8, smooth=True),
    line(s(kelt_up_v, kelt_up_i), sc_px, "#14207f", 1.6, smooth=True),
    line(s(kelt_lo_v, kelt_lo_i), sc_px, "#14207f", 1.6, smooth=True),
    line(segs(blue_thin), sc_px, "#2a45e0", 1, detail=True),
    line(segs(blue_dash), sc_px, "#2a45e0", 1, [4, 3], detail=True),
    line(segs(blue_thick), sc_px, "#0a2be0", 2, detail=True),
    line(segs(red_thick), sc_px, "#ee1111", 2, detail=True),
    line(segs(red_thin), sc_px, "#ee2222", 1, detail=True),
    line(segs(black_thick), sc_px, "#111111", 1.8, detail=True),
    line(segs(black_dash), sc_px, "#000000", 2, [3, 2], detail=True),
    line(segs([(-0.3, v, 276.5, v) for v in pivots]), sc_px, "#9a33ee", 1.6, [3, 2], detail=True),
    peak_bg, peak_fg,
)

# ---------- volume ----------
vdf = s(volume)
vdf["f"] = ["#c96a74" if c == "r" else "#7a7a7a" for c in volume_side]
vdf["e"] = ["#c8102e" if c == "r" else "#444444" for c in volume_side]
vdf["b"] = 0
vol_panel = alt.layer(
    levels([5.14, 0], sc_vol, "#bbbbbb", axis=yaxis([.5, 1, 1.5, 2, 2.5, 3, 3.5, 4, 4.5, 5],
           expr="datum.value < 1 ? '500M' : format(datum.value, '.1f') + 'B'")),
    alt.Chart(vdf).mark_bar(size=3.6, strokeWidth=0.7, orient="vertical").encode(
        x=X, y=alt.Y("v:Q", scale=sc_vol, axis=None), y2="b:Q",
        color=alt.Color("f:N", scale=None), stroke=alt.Stroke("e:N", scale=None)),
    levels([3.68], sc_vol, "#555555", 1, [3, 2]),
)

# ---------- MACD ----------
hdf = s(macd_hist)
hdf["b"] = 0
macd_panel = alt.layer(
    levels([50.4, -85.8], sc_macd, "#bbbbbb", axis=yaxis(list(range(-80, 60, 20)), [-80, -60, -40, -20, 0, 20, 40])),
    alt.Chart(hdf).mark_bar(size=4.2, color="#58a4cf", stroke="#1b76a8", strokeWidth=0.5, orient="vertical").encode(
        x=X, y=alt.Y("v:Q", scale=sc_macd, axis=None), y2="b:Q"),
    line(s(signal_v, signal_i), sc_macd, "#e83a3a", 1, smooth=True),
    line(s(macd_v, macd_i), sc_macd, "#111111", 1.4, smooth=True),
)
hist_panel = alt.layer(
    levels([23.2, -29.6], sc_hist, "#bbbbbb", axis=yaxis(list(range(-25, 25, 5)))),
    alt.Chart(hdf).mark_bar(size=4.2, color="#58a4cf", stroke="#1b76a8", strokeWidth=0.6, orient="vertical").encode(
        x=X, y=alt.Y("v:Q", scale=sc_hist, axis=None), y2="b:Q"),
)

# ---------- date strip under the price panel ----------
sdf = pd.DataFrame({"i": tick_i, "t": tick_l, "v": 0.5, "w": ["bold" if l in bold_l else "normal" for l in tick_l]})
strip = alt.layer(
    alt.Chart(sdf[sdf.w == "normal"]).mark_text(font=SANS, fontSize=10, color="#555555").encode(
        x=X, y=alt.Y("v:Q", scale=sc_strip, axis=None), text="t:N"),
    alt.Chart(sdf[sdf.w == "bold"]).mark_text(font=SANS, fontSize=10, color="#222222", fontWeight="bold").encode(
        x=X, y=alt.Y("v:Q", scale=sc_strip, axis=None), text="t:N"),
)

# ---------- text and annotations ----------
notes = []
# header
notes += [txt("$SPX", 32, 14, 11, "#111111", "bold"),
          txt("S&P 500 Large Cap Index", 62, 13, 8.5, "#555555"), txt("INDX", 164, 13, 7.5, "#555555"),
          txt("4-Nov-2019 1:02pm", 32, 22, 8, "#444444"),
          txt("\u00a9 StockCharts.com", 1210, 13, 9, "#777777", align="right")]
for t, px, b, z in [("Open", 816, 1, 9), ("3078.96", 841, 0, 9), ("High", 877, 1, 9), ("3085.20", 899, 0, 9), ("Low", 935, 1, 9), ("3077.46", 956, 0, 9),
                    ("Last", 992, 1, 9), ("3079.20", 1014, 0, 9), ("Volume", 1050, 1, 9), ("987.8M", 1086, 0, 9), ("Chg", 1120, 1, 9),
                    ("+12.29 (+0.40%)", 1140, 0, 8.5), ("\u25b2", 1205, 0, 7)]:
    notes.append(txt(t, px, 21, z, "#222222" if b else "#666666", "bold" if b else "normal"))
# panel captions
notes += [txt("RSI(14) 68.42", 44, 30, 9.5, "#777777"), txt("RSI(5) 83.23", 44, 239, 9.5, "#777777"),
          txt("$NYMO 17.07 (1 Nov)", 45, 344, 9.5, "#777777"), txt("RSI(2) 92.10", 44, 449, 9.5, "#777777"),
          txt("Volume 987,791,936", 44, 1092, 9.5, "#777777"),
          txt("MACD(12,26,9) 27.113,", 44, 1275, 9.5, "#666666"), txt("19.521,", 152, 1275, 9.5, "#ee3333"),
          txt("7.592", 190, 1275, 9.5, "#5577ee"), txt("MACD(12,26,9) Hist 7.592", 44, 1380, 9.5, "#777777")]
# price legend
legend = [("$SPX (Daily) 3079.20", 554, "#333333", None), ("MA(50) 2975.25", 563, "#3344aa", "#3344aa"),
          ("MA(100) 2961.03", 572, "#ee5555", "#ee3333"), ("MA(200) 2889.97", 581, "#666666", "#444444"),
          ("BB(20,2.0) 2908.44 - 3000.17 - 3091.89", 589, "#666666", "#111111"), ("EMA(50) 2982.57", 598, "#666666", "#3e6b46"),
          ("BB(20,3.0) 2862.58 - 3000.17 - 3137.76", 607, "#666666", "#111111"),
          ("KELT(20,2.0,10) 2965.55 - 3014.03 - 3062.52", 615, "#3344aa", "#14207f"), ("EEM 43.67", 624, "#666666", None)]
for t, y, c, m in legend:
    notes.append(txt(t, 43, y, 8.5, c))
    if m:
        notes.append(seg_px(35, y, 42, y, m, 1.5))
# right hand pivot labels
notes += [txt("WEEKLY PIVOT 3052", 1210, 578, 9.2, "#111111", "bold", align="right"),
          txt("MONTHLY PIVOT 2981", 1209, 629, 9.2, "#111111", "bold", align="right"),
          txt("ANNUAL PIVOT 2598", 1209, 884, 9.2, "#111111", "bold", align="right")]
for t, y in [("0.0%: 3069.50", 569), ("38.2%: 2800.79", 754), ("50.0%: 2707.59", 811), ("61.8%: 2622.39", 869), ("100.0%: 2346.58", 1054)]:
    notes.append(txt(t, 1238, y, 9.5, "#999999", align="right"))
# logo
notes += [txt("THE ART OF CHART", 870, 838, 21, "#111111", "bold", font="DejaVu Sans"), txt("\u00ae", 1104, 831, 9, "#555555"),
          txt("Giving you the edge in trading", 870, 859, 17, "#808080")]
for px, top in [(1117, 857), (1124, 854), (1131, 851), (1138, 849), (1145, 851), (1152, 848), (1160, 845)]:
    notes.append(seg_px(px, top, px, 863, "#777777", 5))
notes += [alt.Chart(one).mark_circle(size=800, fill="#ffffff", stroke="#222222", strokeWidth=1.5, opacity=1).encode(
              x=alt.value(1140 - OX), y=alt.value(842 - OY)),
          seg_px(1110, 858, 1128, 842, "#dd2222", 1.6), seg_px(1128, 842, 1144, 844, "#dd2222", 2.2),
          seg_px(1144, 844, 1172, 820, "#dd2222", 2.6),
          alt.Chart(one).mark_point(shape="triangle-right", filled=True, color="#dd2222", size=60, angle=315, opacity=1).encode(
              x=alt.value(1171 - OX), y=alt.value(821 - OY))]
# blue arrows at the left edge
notes += [seg_px(8, 178, 16, 174, "#1133dd", 1.5),
          alt.Chart(one).mark_point(shape="triangle-right", filled=True, color="#0000ee", size=90, angle=345, opacity=1).encode(
              x=alt.value(13 - OX), y=alt.value(175 - OY)),
          alt.Chart(one).mark_point(shape="triangle-right", filled=True, color="#0000ee", size=90, angle=0, opacity=1).encode(
              x=alt.value(9 - OX), y=alt.value(320 - OY))]
# call-out wedges
for x0, y0, x1, y1 in [(466, 1121, 8, 1137), (451, 1126, 8, 1139), (300, 1131, 8, 1138), (449, 1126, 407, 1144), (470, 1126, 407, 1143),
                       (613, 1121, 958, 1161), (632, 1128, 958, 1161), (632, 1128, 723, 1163), (644, 1137, 723, 1163),
                       (620, 1131, 690, 1161), (614, 1126, 690, 1161)]:
    notes.append(seg_px(x0, y0, x1, y1, "#9a9a9a", 1.2))
# text boxes
notes += box(1006, 50, 1154, 66) + [note("NO CURRENT DIVERGENCE", 1009, 58, 9.2)]
notes += box(82, 230, 452, 247) + [note("The daily RSI 5 is the best guide to short term highs and lows on SPX", 85, 238.5, 10)]
notes += box(892, 233, 1137, 249) + [note("A POSSIBLE RSI 5 SELL SIGNAL IS BREWING", 894, 241, 9)]
notes += box(990, 354, 1151, 370) + [note("SOME NEGATIVE DIVERGENCE", 992, 362, 9.2)]
notes += box(31, 495, 754, 547)
notes += [note("SPX Daily - No current buy or sell signal. A possible RSI 5 sell signal is brewing", 34, 503, 10),
          note("26th Oct - NDX made a new all time high on Friday and the SPX high was just 0.60 handles short of a new ATH. Expecting a new ATH soon.", 34, 515, 10),
          note("3rd Nov - The obvious bigger picture target is trendline resistance in the 3110 area. Hit shorter term resistance on Friday.", 34, 538, 10)]
notes += box(466, 1086, 613, 1126)
notes += [note("A high volume spike is", 469, 1093, 10),
          note("usually a helpful topping", 469, 1105, 10),
          note("and bottoming signal.", 469, 1117, 10)]

# ---------- assemble ----------
chart = alt.layer(
    grid_x, edges, rsi14_panel, rsi5_panel, nymo_panel, rsi2_panel, eem_panel, price_panel,
    vol_panel, macd_panel, hist_panel, strip, *notes
).resolve_scale(y="independent").properties(
    width=W, height=H,
    autosize=alt.AutoSizeParams(type="none"),
    padding={"left": OX - 8, "top": OY - 8, "right": 29, "bottom": 17},
    background="white",
).configure_view(stroke=None)

chart.save("out.html", embed_options={"renderer": "svg", "actions": False})
